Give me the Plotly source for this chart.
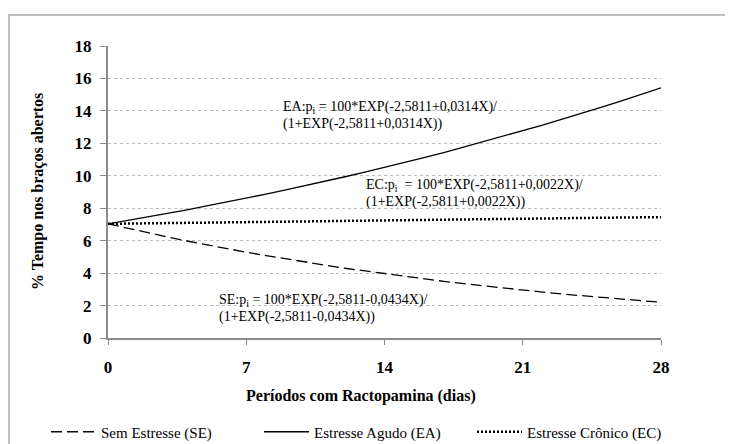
import plotly.graph_objects as go

days = list(range(0, 29))

se_values = [7.04, 6.76, 6.49, 6.23, 5.98, 5.74, 5.51, 5.29, 5.08, 4.87,
             4.68, 4.49, 4.30, 4.13, 3.96, 3.80, 3.64, 3.49, 3.35, 3.21,
             3.08, 2.95, 2.83, 2.71, 2.60, 2.49, 2.39, 2.29, 2.20]
ea_values = [7.04, 7.25, 7.46, 7.68, 7.90, 8.14, 8.37, 8.62, 8.87, 9.13,
             9.39, 9.66, 9.94, 10.22, 10.51, 10.81, 11.12, 11.43, 11.76, 12.09,
             12.42, 12.77, 13.12, 13.49, 13.85, 14.23, 14.62, 15.02, 15.42]
ec_values = [7.04, 7.05, 7.07, 7.08, 7.10, 7.11, 7.13, 7.14, 7.16, 7.17,
             7.19, 7.20, 7.22, 7.23, 7.25, 7.26, 7.28, 7.29, 7.31, 7.32,
             7.34, 7.35, 7.37, 7.38, 7.40, 7.41, 7.43, 7.44, 7.45]

series_names = ["Sem Estresse (SE)", "Estresse Agudo (EA)", "Estresse Crônico (EC)"]
x_ticks = [0, 7, 14, 21, 28]
y_ticks = [0, 2, 4, 6, 8, 10, 12, 14, 16, 18]

x_title = "Períodos com Ractopamina (dias)"
y_title = "% Tempo nos braços abertos"
eq_ea = ["EA:p<sub>i</sub> = 100*EXP(-2,5811+0,0314X)/", "(1+EXP(-2,5811+0,0314X))"]
eq_ec = ["EC:p<sub>i</sub>  = 100*EXP(-2,5811+0,0022X)/", "(1+EXP(-2,5811+0,0022X))"]
eq_se = ["SE:p<sub>i</sub> = 100*EXP(-2,5811-0,0434X)/", "(1+EXP(-2,5811-0,0434X))"]

SERIF = "Liberation Serif, Times New Roman, serif"

# page offset (body margin) and plot area in reference pixels
OFF = 8
L, R, T, B = 108, 661, 46, 338
W, H = 733 - OFF, 444 - OFF


def px(x):
    return (x - L) / (R - L)


def py(y):
    return (B - y) / (B - T)


fig = go.Figure()
fig.add_trace(go.Scatter(x=days, y=se_values, mode="lines", name=series_names[0],
                         line=dict(color="black", width=1.3, dash="11px,5px")))
fig.add_trace(go.Scatter(x=days, y=ea_values, mode="lines", name=series_names[1],
                         line=dict(color="black", width=1.3)))
fig.add_trace(go.Scatter(x=days, y=ec_values, mode="lines", name=series_names[2],
                         line=dict(color="black", width=2.5, dash="2px,2px")))

annotations = []
for lines, xpix, ypix in [(eq_ea, 282, 110), (eq_ec, 365, 188), (eq_se, 218, 303)]:
    annotations.append(dict(xref="paper", yref="paper", x=px(xpix), y=py(ypix + 7),
                            xanchor="left", yanchor="bottom", showarrow=False, text=lines[0],
                            borderpad=0,
                            font=dict(family=SERIF, size=14, color="black")))
    annotations.append(dict(xref="paper", yref="paper", x=px(xpix), y=py(ypix + 14),
                            xanchor="left", yanchor="middle", showarrow=False, text=lines[1],
                            borderpad=0,
                            font=dict(family=SERIF, size=14, color="black")))

annotations.append(dict(xref="paper", yref="paper", x=px(361), y=py(396), xanchor="center",
                        yanchor="middle", showarrow=False, text=x_title,
                        font=dict(family=SERIF, size=16, color="black", weight="bold")))
annotations.append(dict(xref="paper", yref="paper", x=px(38), y=py(192), xanchor="center",
                        yanchor="middle", showarrow=False, text=y_title, textangle=-90,
                        font=dict(family=SERIF, size=16, color="black", weight="bold")))

fig.update_layout(
    width=W, height=H,
    margin=dict(l=L - OFF, r=733 - R, t=T - OFF, b=444 - B, autoexpand=False),
    paper_bgcolor="white", plot_bgcolor="white",
    font=dict(family=SERIF),
    showlegend=True,
    legend=dict(orientation="h", x=px(46), y=py(432), xanchor="left", yanchor="middle",
                font=dict(family=SERIF, size=15, color="black"),
                entrywidth=153, entrywidthmode="pixels", itemwidth=45,
                bgcolor="rgba(0,0,0,0)"),
    annotations=annotations,
    shapes=[dict(type="rect", xref="paper", yref="paper",
                 x0=px(9), y0=py(470), x1=px(770), y1=py(15),
                 line=dict(color="#c0c0c0", width=2), layer="below")],
)

fig.update_xaxes(range=[0, 28], tickvals=x_ticks, ticktext=[str(v) for v in x_ticks],
                 showgrid=False, zeroline=False, showline=True, linecolor="#8c8c8c", linewidth=2,
                 ticks="outside", ticklen=5, tickcolor="#8c8c8c", tickwidth=1,
                 ticklabelstandoff=8,
                 tickfont=dict(family=SERIF, size=17, color="black", weight="bold"))
fig.update_yaxes(range=[0, 18], tickvals=y_ticks, ticktext=[str(v) for v in y_ticks],
                 showgrid=True, gridcolor="#bdbdbd", griddash="dot", gridwidth=1,
                 zeroline=False, showline=True, linecolor="#8c8c8c", linewidth=2,
                 ticks="outside", ticklen=6, tickcolor="#8c8c8c", tickwidth=1,
                 ticklabelstandoff=5,
                 tickfont=dict(family=SERIF, size=17, color="black", weight="bold"))

fig.write_html("out.html")
